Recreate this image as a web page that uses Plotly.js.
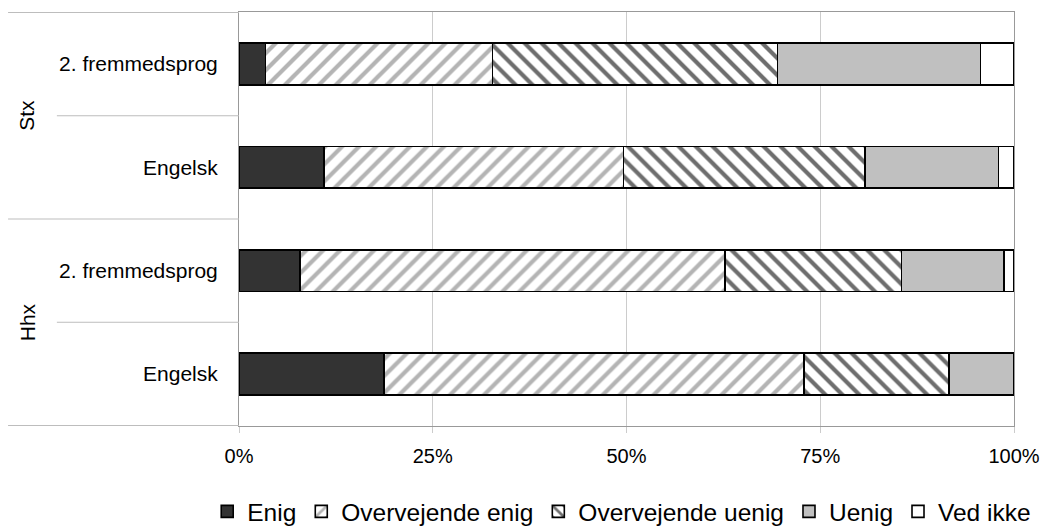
<!DOCTYPE html>
<html>
<head>
<meta charset="utf-8">
<script src="https://cdn.plot.ly/plotly-3.0.1.min.js"></script>
<style>
  html, body { margin: 0; padding: 0; background: #ffffff; }
  #chart { width: 1043px; height: 528px; }
</style>
</head>
<body>
<div id="chart"></div>
<script>
// Categories, from bottom to top
const groups   = ['Hhx', 'Hhx', 'Stx', 'Stx'];
const subjects = ['Engelsk', '2. fremmedsprog', 'Engelsk', '2. fremmedsprog'];

// Series values (percent of answers), same order as the categories
const enig             = [18.7,  7.9, 11.0,  3.4];
const overvejendeEnig  = [54.2, 54.8, 38.6, 29.3];
const overvejendeUenig = [18.7, 22.8, 31.2, 36.8];
const uenig            = [ 8.4, 13.2, 17.2, 26.2];
const vedIkke          = [ 0.0,  1.3,  2.0,  4.3];

const seriesNames = ['Enig', 'Overvejende enig', 'Overvejende uenig', 'Uenig', 'Ved ikke'];
const xTickValues = [0, 25, 50, 75, 100];
const xTickLabels = ['0%', '25%', '50%', '75%', '100%'];
const groupNames  = ['Hhx', 'Stx'];

const cats = groups.map((g, i) => g + ' | ' + subjects[i]);
const FONT = "'Liberation Sans', Arial, Helvetica, sans-serif";

const lineStyle = { color: '#000000', width: 1.6 };
const styles = [
  { color: '#333333', line: lineStyle },
  { color: '#ffffff', line: lineStyle,
    pattern: { shape: '/', fgcolor: '#b4b4b4', bgcolor: '#ffffff', size: 12, solidity: 0.35, fillmode: 'replace' } },
  { color: '#ffffff', line: lineStyle,
    pattern: { shape: '\\', fgcolor: '#6e6e6e', bgcolor: '#ffffff', size: 12, solidity: 0.35, fillmode: 'replace' } },
  { color: '#c0c0c0', line: lineStyle },
  { color: '#ffffff', line: lineStyle }
];
const values = [enig, overvejendeEnig, overvejendeUenig, uenig, vedIkke];

const traces = values.map((v, k) => ({
  type: 'bar',
  orientation: 'h',
  name: seriesNames[k],
  x: v,
  y: cats,
  marker: styles[k],
  hoverinfo: 'x+name'
}));

// layout decorations: separators for the two-level category axis
const shapes = [];
const leftFull = -0.298, leftInner = -0.235;
[-0.5, 1.5, 3.5].forEach(yv => shapes.push({
  type: 'line', xref: 'paper', yref: 'y', x0: leftFull, x1: 0, y0: yv, y1: yv,
  line: { color: '#bdbdbd', width: 1 }
}));
[0.5, 2.5].forEach(yv => shapes.push({
  type: 'line', xref: 'paper', yref: 'y', x0: leftInner, x1: 0, y0: yv, y1: yv,
  line: { color: '#bdbdbd', width: 1 }
}));

const annotations = groupNames.map((g, i) => ({
  text: g, xref: 'paper', yref: 'y', x: -0.2735, y: i * 2 + 0.5,
  textangle: -90, showarrow: false, xanchor: 'center', yanchor: 'middle',
  font: { family: FONT, size: 21, color: '#000000' }
}));

const layout = {
  width: 1043, height: 528,
  margin: { l: 239, r: 29, t: 12, b: 102, autoexpand: false },
  paper_bgcolor: '#ffffff', plot_bgcolor: '#ffffff',
  barmode: 'stack',
  bargap: 0.595,
  showlegend: true,
  font: { family: FONT, size: 20, color: '#000000' },
  xaxis: {
    range: [0, 100], tickmode: 'array', tickvals: xTickValues, ticktext: xTickLabels,
    showgrid: true, gridcolor: '#cccccc', gridwidth: 1,
    showline: true, linecolor: '#999999', linewidth: 1, mirror: true,
    ticks: 'outside', ticklen: 6, tickcolor: '#cccccc',
    ticklabelstandoff: 6,
    zeroline: false, fixedrange: true,
    tickfont: { family: FONT, size: 20, color: '#000000' }
  },
  yaxis: {
    type: 'category', categoryorder: 'array', categoryarray: cats,
    tickmode: 'array', tickvals: cats, ticktext: subjects,
    showline: true, linecolor: '#999999', linewidth: 1, mirror: true,
    ticks: '', showgrid: false, zeroline: false,
    ticklabelstandoff: 16, fixedrange: true,
    tickfont: { family: FONT, size: 21, color: '#000000' }
  },
  legend: {
    orientation: 'h', xref: 'paper', yref: 'paper',
    x: -0.041, xanchor: 'left', y: -0.152, yanchor: 'top',
    font: { family: FONT, size: 24.5, color: '#000000' },
    itemwidth: 30, traceorder: 'normal', tracegroupgap: 0
  },
  shapes: shapes,
  annotations: annotations
};

Plotly.newPlot('chart', traces, layout, { displayModeBar: false, staticPlot: true });
</script>
</body>
</html>
